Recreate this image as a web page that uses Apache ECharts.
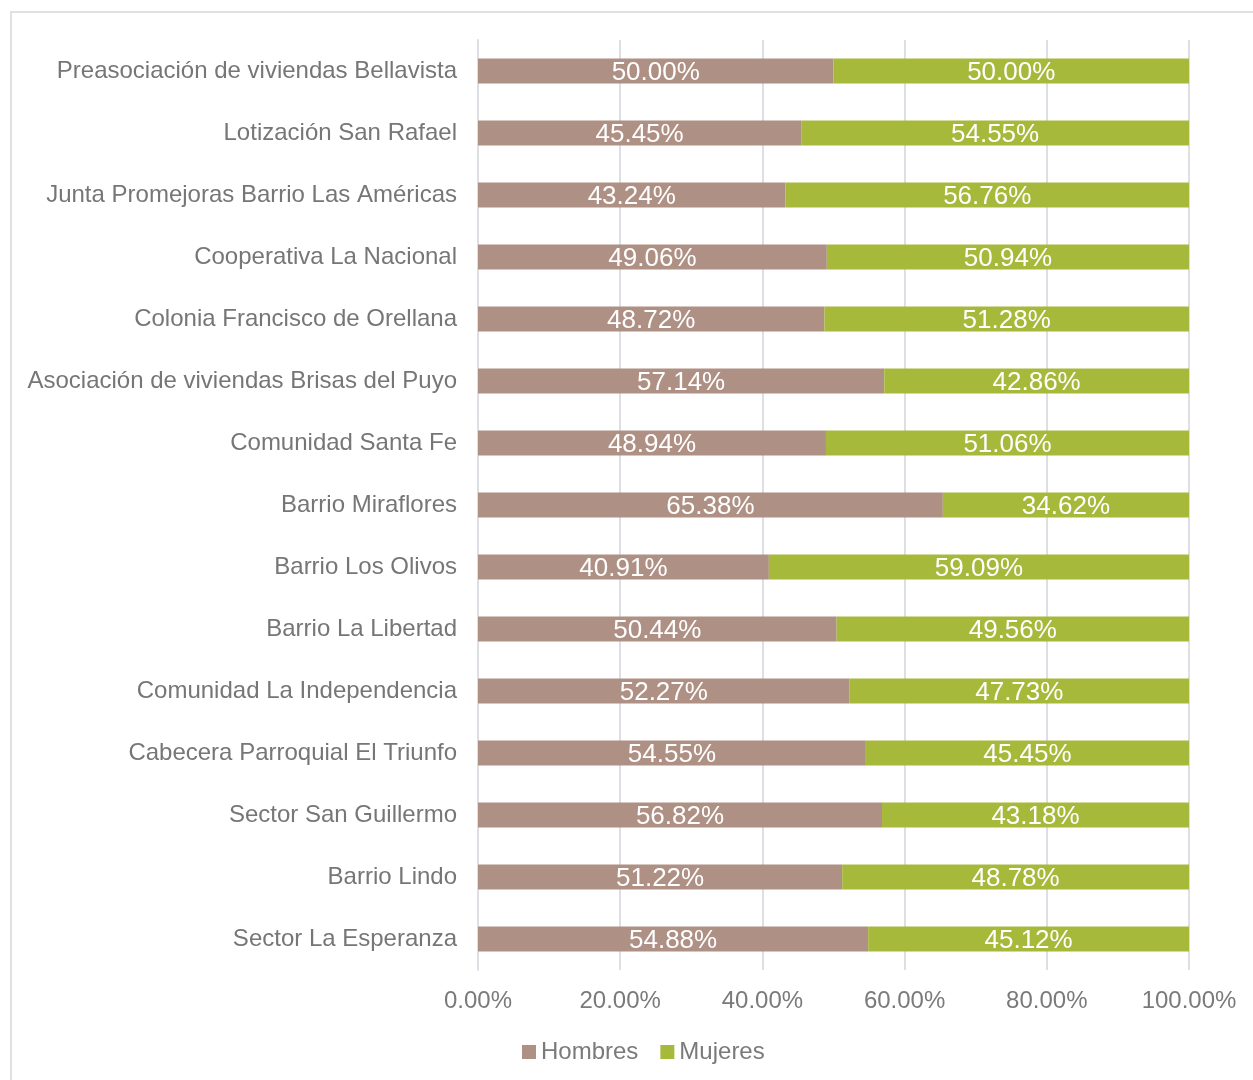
<!DOCTYPE html>
<html>
<head>
<meta charset="utf-8">
<script src="https://cdn.jsdelivr.net/npm/echarts@6/dist/echarts.min.js"></script>
<style>
    html, body { margin: 0; padding: 0; background: #fff; overflow: hidden; }
    #chart { position: absolute; left: 0; top: 0; width: 1253px; height: 1080px; }
    .frame {
        position: absolute; left: 10px; top: 11px;
        width: 1300px; height: 1200px;
        border: 2px solid #e1e1e1;
        pointer-events: none;
    }
</style>
</head>
<body>
<div id="chart"></div>
<div class="frame"></div>
<script>
    var categories = [
        'Preasociación de viviendas Bellavista',
        'Lotización San Rafael',
        'Junta Promejoras Barrio Las Américas',
        'Cooperativa La Nacional',
        'Colonia Francisco de Orellana',
        'Asociación de viviendas Brisas del Puyo',
        'Comunidad Santa Fe',
        'Barrio Miraflores',
        'Barrio Los Olivos',
        'Barrio La Libertad',
        'Comunidad La Independencia',
        'Cabecera Parroquial El Triunfo',
        'Sector San Guillermo',
        'Barrio Lindo',
        'Sector La Esperanza'
    ];
    var hombres = [50.00, 45.45, 43.24, 49.06, 48.72, 57.14, 48.94, 65.38, 40.91, 50.44, 52.27, 54.55, 56.82, 51.22, 54.88];
    var mujeres = [50.00, 54.55, 56.76, 50.94, 51.28, 42.86, 51.06, 34.62, 59.09, 49.56, 47.73, 45.45, 43.18, 48.78, 45.12];

    var pct = function (v) {
        return v.toFixed(2) + '%';
    };

    var labelStyle = {
        show: true,
        position: 'inside',
        offset: [0, 2],
        color: '#fff',
        fontSize: 26,
        fontFamily: 'Liberation Sans',
        formatter: function (p) { return pct(p.value); }
    };

    var chart = echarts.init(document.getElementById('chart'));
    chart.setOption({
        backgroundColor: '#fff',
        animation: false,
        textStyle: { fontFamily: 'Liberation Sans' },
        grid: { left: 478, right: 64, top: 40, bottom: 110 },
        legend: {
            left: 517,
            top: 1035,
            itemWidth: 14,
            itemHeight: 14,
            itemGap: 22,
            icon: 'rect',
            textStyle: { color: '#7a7a7a', fontSize: 24 },
            data: ['Hombres', 'Mujeres']
        },
        xAxis: {
            type: 'value',
            min: 0,
            max: 100,
            interval: 20,
            axisLine: { show: false },
            axisTick: { show: false },
            splitLine: { lineStyle: { color: '#dcdfe4', width: 2 } },
            axisLabel: {
                color: '#7a7a7a',
                fontSize: 24,
                margin: 19,
                formatter: function (v) { return pct(v); }
            }
        },
        yAxis: {
            type: 'category',
            inverse: true,
            data: categories,
            axisLine: { show: true, lineStyle: { color: '#dcdfe4', width: 2 } },
            axisTick: { show: false },
            axisLabel: { color: '#767676', fontSize: 24, margin: 21, padding: [3, 0, 0, 0] }
        },
        series: [
            {
                name: 'Hombres',
                type: 'bar',
                stack: 'total',
                barWidth: 25,
                itemStyle: { color: '#ae9084' },
                label: labelStyle,
                data: hombres
            },
            {
                name: 'Mujeres',
                type: 'bar',
                stack: 'total',
                barWidth: 25,
                itemStyle: { color: '#a7b93a' },
                label: labelStyle,
                data: mujeres
            }
        ]
    });
</script>
</body>
</html>
